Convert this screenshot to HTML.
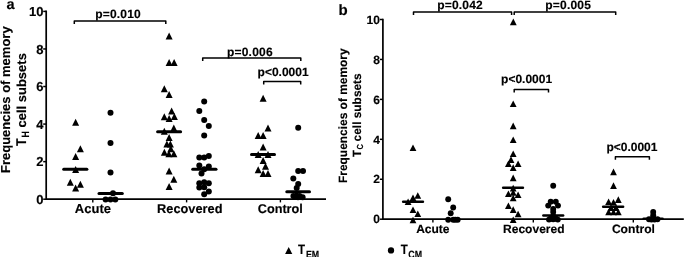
<!DOCTYPE html>
<html lang="en"><head><meta charset="utf-8"><title>Frequencies of memory T cell subsets</title>
<style>
html,body{margin:0;padding:0;background:#fff;}
svg{display:block;will-change:transform;}
text{font-family:"Liberation Sans", Arial, Helvetica, sans-serif;font-weight:bold;fill:#000;stroke:#000;stroke-width:0.15px;text-rendering:geometricPrecision;}
</style></head>
<body>
<svg width="685" height="257" viewBox="0 0 685 257">
<rect width="685" height="257" fill="#fff"/>
<g fill="#000">
<path d="M46.2 10.60V199.2H326.0" fill="none" stroke="#000" stroke-width="1.7" stroke-linejoin="miter"/>
<line x1="43.2" y1="199.20" x2="46.2" y2="199.20" stroke="#000" stroke-width="1.5"/>
<text x="43.40" y="203.80" font-size="13.0" text-anchor="end" >0</text>
<line x1="43.2" y1="161.64" x2="46.2" y2="161.64" stroke="#000" stroke-width="1.5"/>
<text x="43.40" y="166.24" font-size="13.0" text-anchor="end" >2</text>
<line x1="43.2" y1="124.08" x2="46.2" y2="124.08" stroke="#000" stroke-width="1.5"/>
<text x="43.40" y="128.68" font-size="13.0" text-anchor="end" >4</text>
<line x1="43.2" y1="86.52" x2="46.2" y2="86.52" stroke="#000" stroke-width="1.5"/>
<text x="43.40" y="91.12" font-size="13.0" text-anchor="end" >6</text>
<line x1="43.2" y1="48.96" x2="46.2" y2="48.96" stroke="#000" stroke-width="1.5"/>
<text x="43.40" y="53.56" font-size="13.0" text-anchor="end" >8</text>
<line x1="43.2" y1="11.40" x2="46.2" y2="11.40" stroke="#000" stroke-width="1.5"/>
<text x="43.40" y="16.00" font-size="13.0" text-anchor="end" >10</text>
<line x1="92.8" y1="199.2" x2="92.8" y2="202.39999999999998" stroke="#000" stroke-width="1.4"/>
<line x1="186.6" y1="199.2" x2="186.6" y2="202.39999999999998" stroke="#000" stroke-width="1.4"/>
<line x1="280.4" y1="199.2" x2="280.4" y2="202.39999999999998" stroke="#000" stroke-width="1.4"/>
<text x="92.90" y="212.70" font-size="13" text-anchor="middle" >Acute</text>
<text x="189.80" y="212.70" font-size="12.8" text-anchor="middle" >Recovered</text>
<text x="280.30" y="212.70" font-size="12.7" text-anchor="middle" >Control</text>
<text x="6.60" y="8.50" font-size="14.5" text-anchor="start" >a</text>
<text transform="translate(9.8 99.7) rotate(-90)" font-size="13" text-anchor="middle">Frequencies of memory</text>
<text transform="translate(25.9 145.9) rotate(-90) scale(1.0 1.13)" font-size="12.5">T</text>
<text transform="translate(28.9 137.6) rotate(-90) scale(0.84 1)" font-size="10.5">H</text>
<text transform="translate(26.2 127.55) rotate(-90)" font-size="13">cell subsets</text>
<path d="M75.60 118.80L79.10 125.80L72.10 125.80Z"/>
<path d="M80.40 145.20L83.90 152.20L76.90 152.20Z"/>
<path d="M75.60 152.90L79.10 159.90L72.10 159.90Z"/>
<path d="M75.60 165.90L79.10 172.90L72.10 172.90Z"/>
<path d="M70.30 178.70L73.80 185.70L66.80 185.70Z"/>
<path d="M80.40 180.80L83.90 187.80L76.90 187.80Z"/>
<path d="M75.60 184.60L79.10 191.60L72.10 191.60Z"/>
<path d="M169.10 32.60L172.60 39.60L165.60 39.60Z"/>
<path d="M169.10 58.90L172.60 65.90L165.60 65.90Z"/>
<path d="M174.10 58.90L177.60 65.90L170.60 65.90Z"/>
<path d="M164.30 85.30L167.80 92.30L160.80 92.30Z"/>
<path d="M169.10 91.10L172.60 98.10L165.60 98.10Z"/>
<path d="M171.60 107.60L175.10 114.60L168.10 114.60Z"/>
<path d="M164.30 113.20L167.80 120.20L160.80 120.20Z"/>
<path d="M174.40 113.00L177.90 120.00L170.90 120.00Z"/>
<path d="M169.10 115.10L172.60 122.10L165.60 122.10Z"/>
<path d="M173.80 124.60L177.30 131.60L170.30 131.60Z"/>
<path d="M164.30 127.80L167.80 134.80L160.80 134.80Z"/>
<path d="M169.10 134.00L172.60 141.00L165.60 141.00Z"/>
<path d="M166.90 140.50L170.40 147.50L163.40 147.50Z"/>
<path d="M170.40 140.50L173.90 147.50L166.90 147.50Z"/>
<path d="M170.80 145.30L174.30 152.30L167.30 152.30Z"/>
<path d="M164.40 148.70L167.90 155.70L160.90 155.70Z"/>
<path d="M168.90 150.30L172.40 157.30L165.40 157.30Z"/>
<path d="M173.90 150.30L177.40 157.30L170.40 157.30Z"/>
<path d="M169.10 167.50L172.60 174.50L165.60 174.50Z"/>
<path d="M173.80 175.70L177.30 182.70L170.30 182.70Z"/>
<path d="M169.10 183.10L172.60 190.10L165.60 190.10Z"/>
<path d="M263.10 94.70L266.60 101.70L259.60 101.70Z"/>
<path d="M268.00 124.60L271.50 131.60L264.50 131.60Z"/>
<path d="M258.20 131.90L261.70 138.90L254.70 138.90Z"/>
<path d="M263.10 131.90L266.60 138.90L259.60 138.90Z"/>
<path d="M263.10 143.40L266.60 150.40L259.60 150.40Z"/>
<path d="M258.20 151.10L261.70 158.10L254.70 158.10Z"/>
<path d="M268.00 151.10L271.50 158.10L264.50 158.10Z"/>
<path d="M263.10 156.90L266.60 163.90L259.60 163.90Z"/>
<path d="M265.50 162.70L269.00 169.70L262.00 169.70Z"/>
<path d="M258.20 166.30L261.70 173.30L254.70 173.30Z"/>
<path d="M263.10 170.00L266.60 177.00L259.60 177.00Z"/>
<path d="M268.00 170.00L271.50 177.00L264.50 177.00Z"/>
<circle cx="110.50" cy="112.80" r="3.0"/>
<circle cx="110.50" cy="143.00" r="3.0"/>
<circle cx="110.50" cy="172.60" r="3.0"/>
<circle cx="113.00" cy="193.20" r="3.0"/>
<circle cx="105.60" cy="199.40" r="3.0"/>
<circle cx="110.50" cy="199.40" r="3.0"/>
<circle cx="115.30" cy="199.40" r="3.0"/>
<circle cx="204.20" cy="101.60" r="3.0"/>
<circle cx="199.30" cy="111.00" r="3.0"/>
<circle cx="204.20" cy="120.00" r="3.0"/>
<circle cx="208.80" cy="125.90" r="3.0"/>
<circle cx="204.20" cy="135.50" r="3.0"/>
<circle cx="208.80" cy="155.90" r="3.0"/>
<circle cx="199.30" cy="157.60" r="3.0"/>
<circle cx="204.20" cy="157.60" r="3.0"/>
<circle cx="199.30" cy="165.40" r="3.0"/>
<circle cx="208.80" cy="166.40" r="3.0"/>
<circle cx="204.20" cy="169.30" r="3.0"/>
<circle cx="201.50" cy="173.50" r="3.0"/>
<circle cx="199.30" cy="183.20" r="3.0"/>
<circle cx="204.20" cy="182.20" r="3.0"/>
<circle cx="208.80" cy="183.20" r="3.0"/>
<circle cx="199.30" cy="187.60" r="3.0"/>
<circle cx="204.20" cy="187.20" r="3.0"/>
<circle cx="204.20" cy="194.20" r="3.0"/>
<circle cx="208.80" cy="191.60" r="3.0"/>
<circle cx="298.20" cy="127.80" r="3.0"/>
<circle cx="298.20" cy="171.00" r="3.0"/>
<circle cx="303.00" cy="171.00" r="3.0"/>
<circle cx="293.30" cy="178.60" r="3.0"/>
<circle cx="298.20" cy="184.00" r="3.0"/>
<circle cx="296.70" cy="188.00" r="3.0"/>
<circle cx="293.40" cy="195.90" r="3.0"/>
<circle cx="296.50" cy="195.70" r="3.0"/>
<circle cx="299.50" cy="196.00" r="3.0"/>
<circle cx="302.60" cy="197.20" r="3.0"/>
<circle cx="298.00" cy="197.30" r="3.0"/>
<circle cx="295.00" cy="197.00" r="3.0"/>
<line x1="63.70" y1="169.20" x2="86.90" y2="169.20" stroke="#000" stroke-width="3.0" stroke-linecap="round"/>
<line x1="99.00" y1="193.40" x2="122.30" y2="193.40" stroke="#000" stroke-width="3.0" stroke-linecap="round"/>
<line x1="157.60" y1="131.70" x2="180.60" y2="131.70" stroke="#000" stroke-width="3.0" stroke-linecap="round"/>
<line x1="192.70" y1="169.30" x2="216.00" y2="169.30" stroke="#000" stroke-width="3.0" stroke-linecap="round"/>
<line x1="251.50" y1="154.40" x2="274.50" y2="154.40" stroke="#000" stroke-width="3.0" stroke-linecap="round"/>
<line x1="286.80" y1="191.70" x2="309.50" y2="191.70" stroke="#000" stroke-width="3.0" stroke-linecap="round"/>
<path d="M74.30 24.00V21.00H165.80V24.00" fill="none" stroke="#000" stroke-width="1.5" stroke-linejoin="round"/>
<text x="95.20" y="17.50" font-size="12" text-anchor="start" letter-spacing="0.2">p=0.010</text>
<path d="M202.70 60.90V57.90H300.80V60.90" fill="none" stroke="#000" stroke-width="1.5" stroke-linejoin="round"/>
<text x="227.00" y="55.80" font-size="12" text-anchor="start" letter-spacing="0.2">p=0.006</text>
<path d="M263.70 84.50V81.50H300.70V84.50" fill="none" stroke="#000" stroke-width="1.5" stroke-linejoin="round"/>
<text x="257.60" y="76.40" font-size="12" text-anchor="start" >p&lt;0.0001</text>
<path d="M288.70 247.10L292.30 253.90L285.10 253.90Z"/>
<text transform="translate(298.1 253.8) scale(0.92 1.07)" font-size="12.5">T</text>
<text transform="translate(305.9 258.0) scale(0.84 1)" font-size="10.5">EM</text>
<path d="M382.9 18.70V219.2H683.8" fill="none" stroke="#000" stroke-width="1.7"/>
<line x1="379.9" y1="219.20" x2="382.9" y2="219.20" stroke="#000" stroke-width="1.5"/>
<text x="379.90" y="223.40" font-size="12.0" text-anchor="end" >0</text>
<line x1="379.9" y1="179.26" x2="382.9" y2="179.26" stroke="#000" stroke-width="1.5"/>
<text x="379.90" y="183.46" font-size="12.0" text-anchor="end" >2</text>
<line x1="379.9" y1="139.32" x2="382.9" y2="139.32" stroke="#000" stroke-width="1.5"/>
<text x="379.90" y="143.52" font-size="12.0" text-anchor="end" >4</text>
<line x1="379.9" y1="99.38" x2="382.9" y2="99.38" stroke="#000" stroke-width="1.5"/>
<text x="379.90" y="103.58" font-size="12.0" text-anchor="end" >6</text>
<line x1="379.9" y1="59.44" x2="382.9" y2="59.44" stroke="#000" stroke-width="1.5"/>
<text x="379.90" y="63.64" font-size="12.0" text-anchor="end" >8</text>
<line x1="379.9" y1="19.50" x2="382.9" y2="19.50" stroke="#000" stroke-width="1.5"/>
<text x="379.90" y="23.70" font-size="12.0" text-anchor="end" >10</text>
<line x1="432.9" y1="219.2" x2="432.9" y2="222.39999999999998" stroke="#000" stroke-width="1.4"/>
<line x1="533.3" y1="219.2" x2="533.3" y2="222.39999999999998" stroke="#000" stroke-width="1.4"/>
<line x1="633.3" y1="219.2" x2="633.3" y2="222.39999999999998" stroke="#000" stroke-width="1.4"/>
<text x="432.80" y="232.90" font-size="12" text-anchor="middle" >Acute</text>
<text x="533.80" y="233.10" font-size="12" text-anchor="middle" >Recovered</text>
<text x="633.40" y="233.00" font-size="12.1" text-anchor="middle" >Control</text>
<text x="338.60" y="15.20" font-size="15" text-anchor="start" >b</text>
<text transform="translate(346.7 115.7) rotate(-90)" font-size="11.95" text-anchor="middle">Frequencies of memory</text>
<text transform="translate(360.6 156.9) rotate(-90) scale(0.93 1.0)" font-size="11.9">T</text>
<text transform="translate(362.9 149.4) rotate(-90) scale(0.845 1)" font-size="8.8">C</text>
<text transform="translate(360.6 141.4) rotate(-90)" font-size="11.9">cell subsets</text>
<path d="M413.00 144.50L416.40 151.10L409.60 151.10Z"/>
<path d="M417.80 192.20L421.20 198.80L414.40 198.80Z"/>
<path d="M413.00 194.50L416.40 201.10L409.60 201.10Z"/>
<path d="M408.10 198.50L411.50 205.10L404.70 205.10Z"/>
<path d="M413.00 206.50L416.40 213.10L409.60 213.10Z"/>
<path d="M417.80 210.50L421.20 217.10L414.40 217.10Z"/>
<path d="M413.00 216.70L416.40 223.30L409.60 223.30Z"/>
<path d="M513.30 18.60L516.70 25.20L509.90 25.20Z"/>
<path d="M513.20 100.40L516.60 107.00L509.80 107.00Z"/>
<path d="M513.20 122.60L516.60 129.20L509.80 129.20Z"/>
<path d="M513.20 136.50L516.60 143.10L509.80 143.10Z"/>
<path d="M513.20 150.50L516.60 157.10L509.80 157.10Z"/>
<path d="M511.00 156.30L514.40 162.90L507.60 162.90Z"/>
<path d="M508.40 160.40L511.80 167.00L505.00 167.00Z"/>
<path d="M518.10 160.40L521.50 167.00L514.70 167.00Z"/>
<path d="M513.20 164.30L516.60 170.90L509.80 170.90Z"/>
<path d="M513.20 174.60L516.60 181.20L509.80 181.20Z"/>
<path d="M513.20 184.80L516.60 191.40L509.80 191.40Z"/>
<path d="M508.40 190.40L511.80 197.00L505.00 197.00Z"/>
<path d="M513.20 189.20L516.60 195.80L509.80 195.80Z"/>
<path d="M518.10 191.40L521.50 198.00L514.70 198.00Z"/>
<path d="M513.20 194.70L516.60 201.30L509.80 201.30Z"/>
<path d="M508.40 202.40L511.80 209.00L505.00 209.00Z"/>
<path d="M513.20 206.30L516.60 212.90L509.80 212.90Z"/>
<path d="M518.10 210.70L521.50 217.30L514.70 217.30Z"/>
<path d="M513.20 216.50L516.60 223.10L509.80 223.10Z"/>
<path d="M613.50 168.60L616.90 175.20L610.10 175.20Z"/>
<path d="M613.50 182.30L616.90 188.90L610.10 188.90Z"/>
<path d="M618.30 196.30L621.70 202.90L614.90 202.90Z"/>
<path d="M608.60 198.50L612.00 205.10L605.20 205.10Z"/>
<path d="M613.50 198.90L616.90 205.50L610.10 205.50Z"/>
<path d="M611.00 204.30L614.40 210.90L607.60 210.90Z"/>
<path d="M616.00 204.30L619.40 210.90L612.60 210.90Z"/>
<path d="M608.60 208.70L612.00 215.30L605.20 215.30Z"/>
<path d="M613.50 208.70L616.90 215.30L610.10 215.30Z"/>
<path d="M618.30 208.70L621.70 215.30L614.90 215.30Z"/>
<circle cx="448.20" cy="199.30" r="2.95"/>
<circle cx="453.20" cy="207.50" r="2.95"/>
<circle cx="450.70" cy="213.30" r="2.95"/>
<circle cx="448.20" cy="219.70" r="2.95"/>
<circle cx="453.20" cy="219.70" r="2.95"/>
<circle cx="455.30" cy="219.70" r="2.95"/>
<circle cx="457.70" cy="219.70" r="2.95"/>
<circle cx="553.20" cy="185.70" r="2.95"/>
<circle cx="550.70" cy="201.80" r="2.95"/>
<circle cx="555.80" cy="201.80" r="2.95"/>
<circle cx="548.20" cy="205.60" r="2.95"/>
<circle cx="558.00" cy="205.60" r="2.95"/>
<circle cx="553.20" cy="209.00" r="2.95"/>
<circle cx="553.20" cy="212.00" r="2.95"/>
<circle cx="550.50" cy="218.80" r="2.95"/>
<circle cx="553.20" cy="219.20" r="2.95"/>
<circle cx="556.00" cy="218.80" r="2.95"/>
<circle cx="549.00" cy="219.60" r="2.95"/>
<circle cx="557.80" cy="219.60" r="2.95"/>
<circle cx="553.20" cy="216.00" r="2.95"/>
<circle cx="653.20" cy="211.90" r="2.95"/>
<circle cx="653.20" cy="215.30" r="2.95"/>
<circle cx="649.00" cy="219.20" r="2.95"/>
<circle cx="651.50" cy="219.50" r="2.95"/>
<circle cx="654.50" cy="219.50" r="2.95"/>
<circle cx="657.50" cy="219.20" r="2.95"/>
<circle cx="653.20" cy="218.00" r="2.95"/>
<line x1="403.20" y1="201.70" x2="422.90" y2="201.70" stroke="#000" stroke-width="2.6" stroke-linecap="round"/>
<line x1="503.20" y1="187.80" x2="522.90" y2="187.80" stroke="#000" stroke-width="2.6" stroke-linecap="round"/>
<line x1="543.40" y1="215.50" x2="563.10" y2="215.50" stroke="#000" stroke-width="2.6" stroke-linecap="round"/>
<line x1="603.20" y1="206.70" x2="623.10" y2="206.70" stroke="#000" stroke-width="2.6" stroke-linecap="round"/>
<line x1="643.70" y1="218.80" x2="662.50" y2="218.80" stroke="#000" stroke-width="2.6" stroke-linecap="round"/>
<path d="M413.50 14.90V11.90H511.60V14.90" fill="none" stroke="#000" stroke-width="1.5" stroke-linejoin="round"/>
<text x="437.20" y="9.10" font-size="12" text-anchor="start" letter-spacing="0.2">p=0.042</text>
<path d="M514.20 14.90V11.90H615.70V14.90" fill="none" stroke="#000" stroke-width="1.5" stroke-linejoin="round"/>
<text x="545.30" y="9.00" font-size="12" text-anchor="start" letter-spacing="0.2">p=0.005</text>
<path d="M514.20 92.50V89.50H548.50V92.50" fill="none" stroke="#000" stroke-width="1.5" stroke-linejoin="round"/>
<text x="501.10" y="82.90" font-size="12" text-anchor="start" >p&lt;0.0001</text>
<path d="M615.40 159.70V156.70H649.40V159.70" fill="none" stroke="#000" stroke-width="1.5" stroke-linejoin="round"/>
<text x="606.40" y="150.80" font-size="12" text-anchor="start" >p&lt;0.0001</text>
<circle cx="391.00" cy="250.40" r="3.15"/>
<text transform="translate(400.7 253.7) scale(0.92 1.07)" font-size="12.5">T</text>
<text transform="translate(408.3 258.0) scale(0.84 1)" font-size="10.5">CM</text>
</g>
</svg>
</body></html>
